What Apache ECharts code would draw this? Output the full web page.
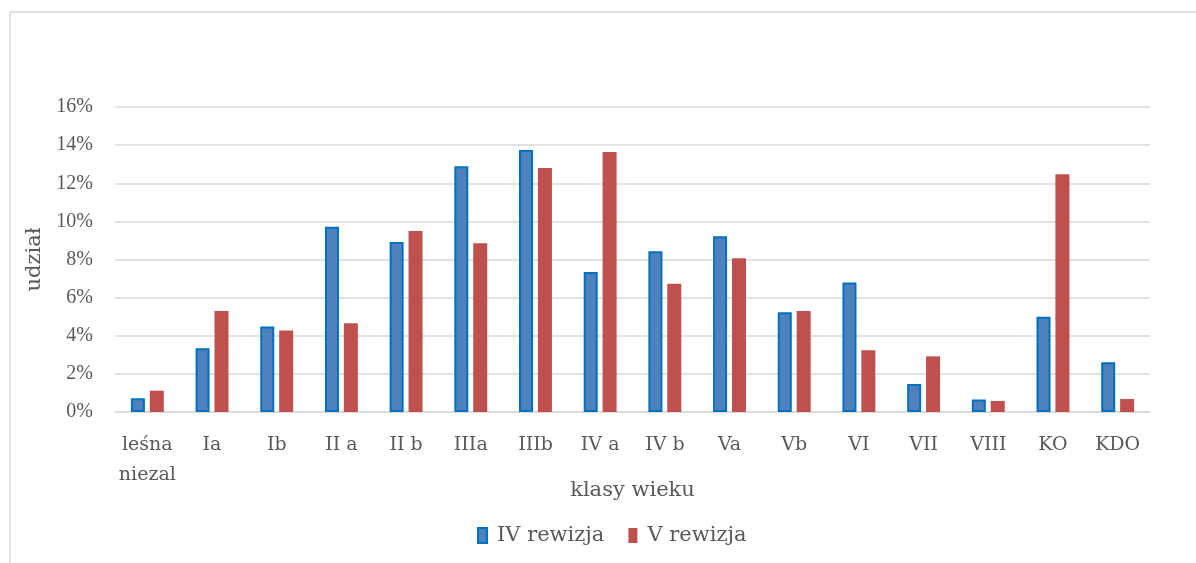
<!DOCTYPE html>
<html>
<head>
<meta charset="utf-8">
<script src="https://cdn.jsdelivr.net/npm/echarts@6/dist/echarts.min.js"></script>
<style>
  html, body { margin: 0; padding: 0; background: #fff; }
  #chart { width: 1196px; height: 563px; }
</style>
</head>
<body>
<div id="chart"></div>
<script>
// klasy wieku
var categories = ['leśna\nniezal', 'Ia', 'Ib', 'II a', 'II b', 'IIIa', 'IIIb', 'IV a',
  'IV b', 'Va', 'Vb', 'VI', 'VII', 'VIII', 'KO', 'KDO'];
// udział w %
var rewizja4 = [0.72, 3.34, 4.48, 9.72, 8.92, 12.89, 13.75, 7.35, 8.43, 9.22, 5.23, 6.80, 1.47, 0.65, 5.00, 2.61];
var rewizja5 = [1.12, 5.30, 4.28, 4.65, 9.50, 8.85, 12.80, 13.64, 6.73, 8.06, 5.30, 3.24, 2.92, 0.58, 12.47, 0.68];
var yTicks = [0, 2, 4, 6, 8, 10, 12, 14, 16];

var font = 'DejaVu Serif';
var tickFont = 'Liberation Serif';
var textColor = '#595959';

var myChart = echarts.init(document.getElementById('chart'));

myChart.setOption({
  animation: false,
  textStyle: { fontFamily: font },
  graphic: [{
    type: 'rect',
    shape: { x: 10, y: 12, width: 1300, height: 700 },
    style: { fill: 'none', stroke: '#d9d9d9', lineWidth: 1.5 },
    silent: true
  }],
  grid: { left: 115, right: 46, top: 107, bottom: 151 },
  legend: {
    data: ['IV rewizja', 'V rewizja'],
    top: 520,
    left: 472,
    icon: 'rect',
    itemWidth: 9,
    itemHeight: 15,
    itemGap: 24,
    textStyle: { fontFamily: font, fontSize: 21, color: textColor, padding: [0, 0, 0, 5] }
  },
  xAxis: {
    type: 'category',
    data: categories,
    name: 'klasy wieku',
    nameLocation: 'middle',
    nameGap: 68,
    nameMoveOverlap: false,
    nameTextStyle: { fontFamily: font, fontSize: 21, color: textColor },
    axisLine: { lineStyle: { color: '#d9d9d9', width: 1.5 } },
    axisTick: { show: false },
    axisLabel: {
      fontFamily: font, fontSize: 19, color: textColor, margin: 18,
      lineHeight: 30, interval: 0
    }
  },
  yAxis: {
    type: 'value',
    min: yTicks[0],
    max: yTicks[yTicks.length - 1],
    interval: 2,
    name: 'udział',
    nameLocation: 'middle',
    nameGap: 67,
    nameRotate: 90,
    nameTextStyle: { fontFamily: font, fontSize: 21, color: textColor },
    axisLine: { show: false },
    axisTick: { show: false },
    axisLabel: { fontFamily: tickFont, fontSize: 20, color: textColor, margin: 22, formatter: '{value}%' },
    splitLine: { lineStyle: { color: '#d9d9d9', width: 1.5 } }
  },
  series: [
    {
      name: 'IV rewizja',
      type: 'bar',
      data: rewizja4,
      barWidth: 14,
      barGap: '35%',
      itemStyle: { color: '#4f81bd', borderColor: '#0070c0', borderWidth: 2 }
    },
    {
      name: 'V rewizja',
      type: 'bar',
      data: rewizja5,
      barWidth: 14,
      itemStyle: { color: '#c0504d' }
    }
  ]
});
</script>
</body>
</html>
